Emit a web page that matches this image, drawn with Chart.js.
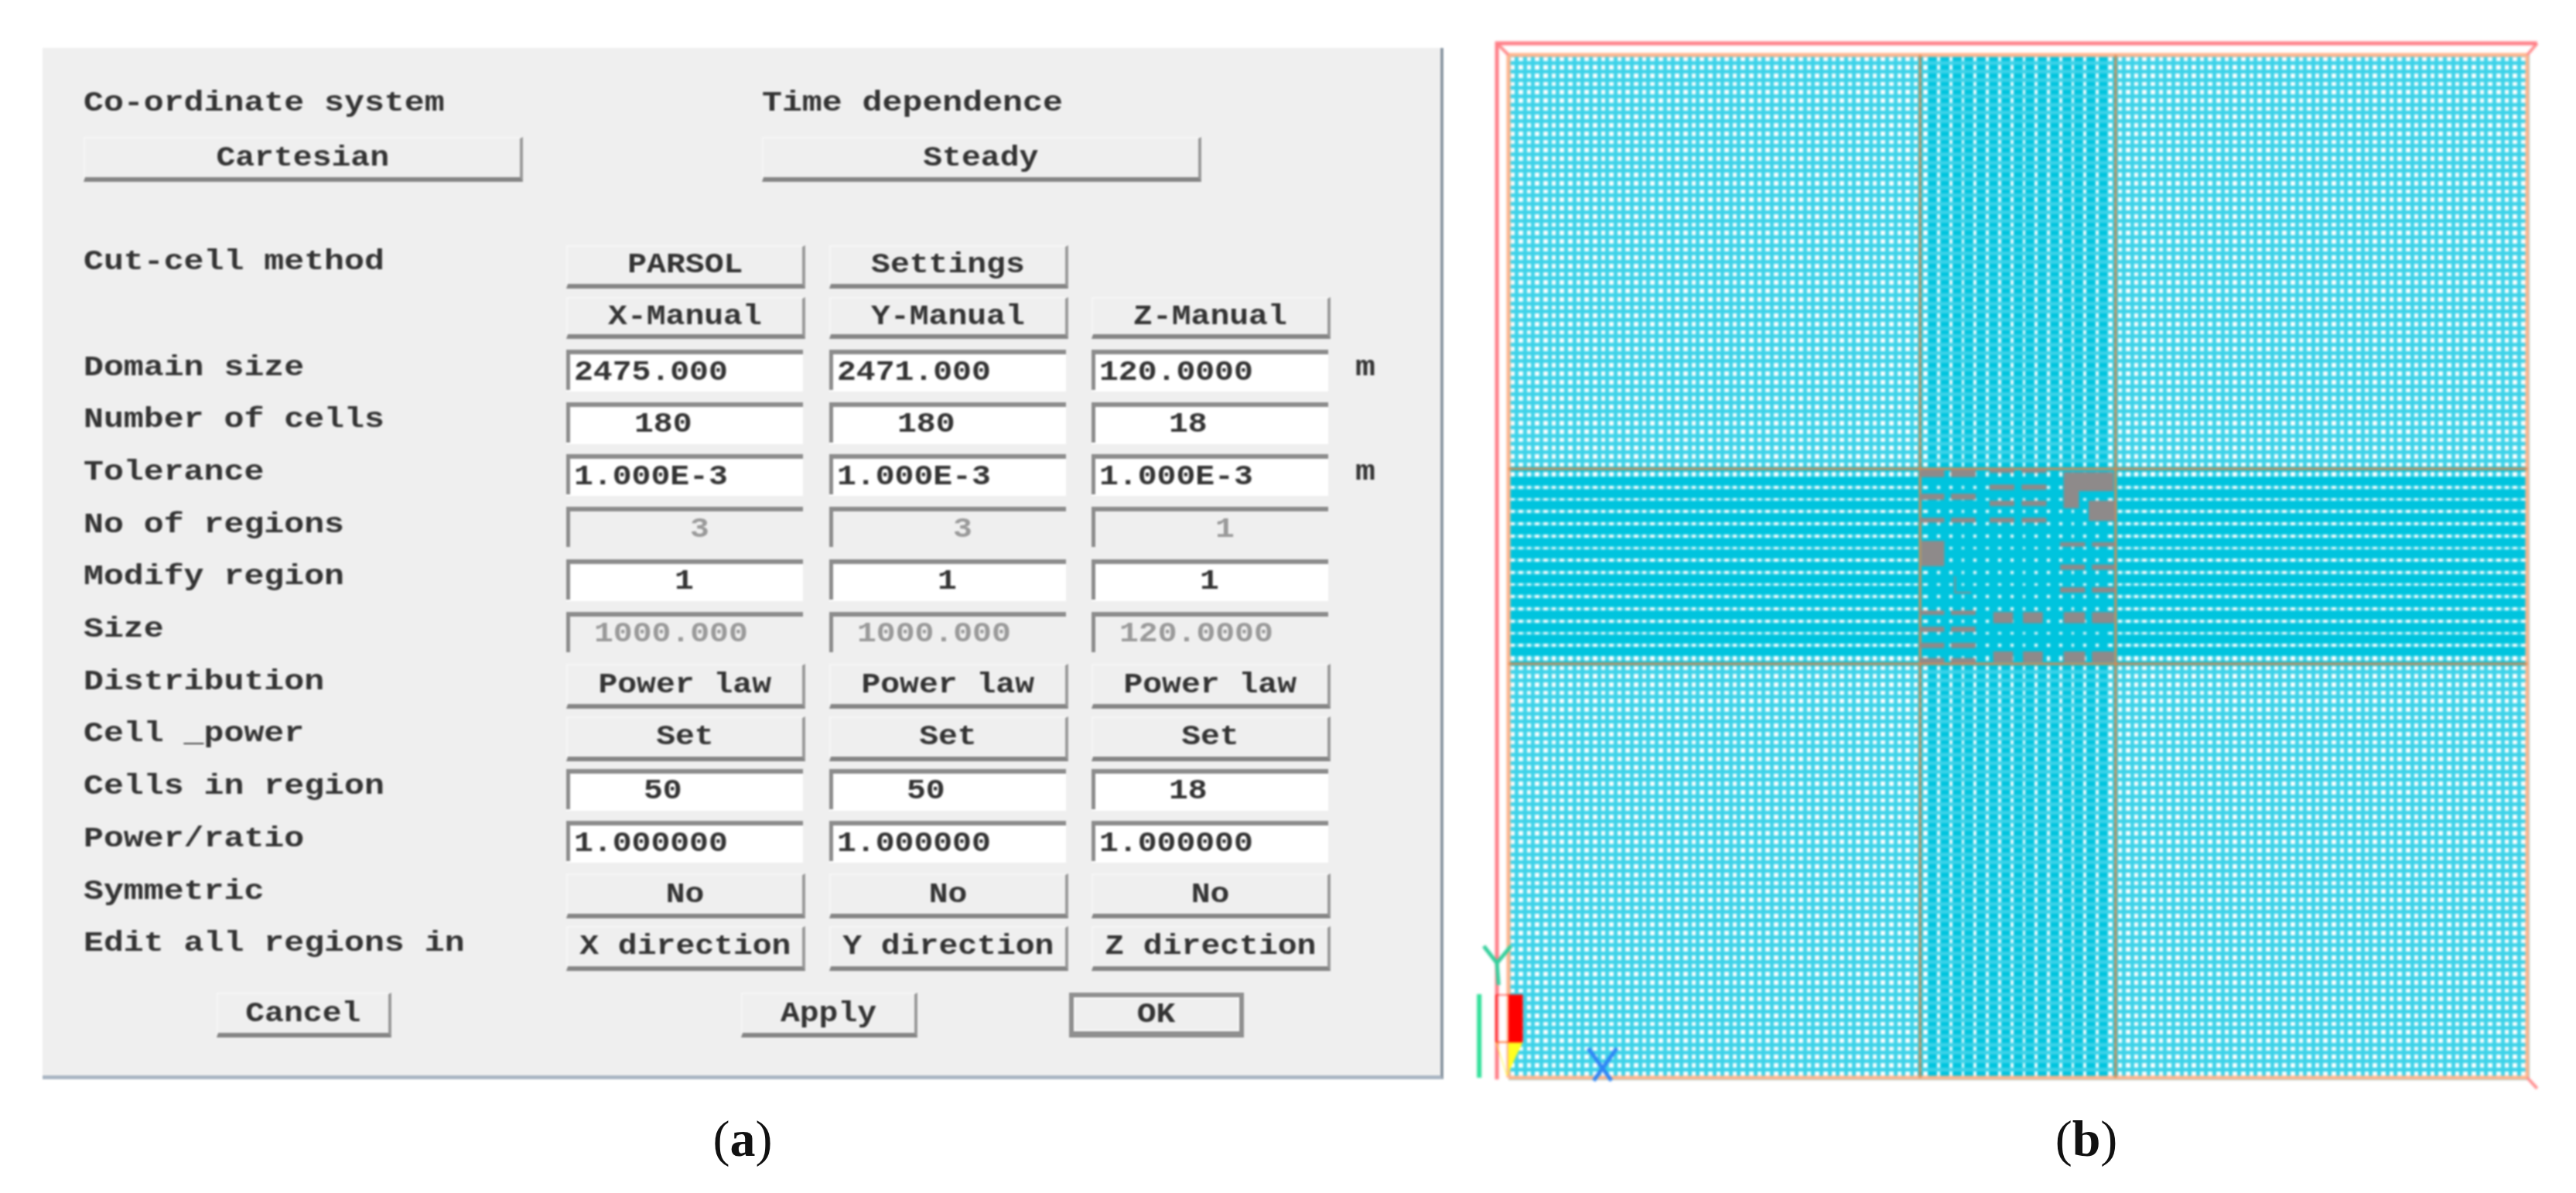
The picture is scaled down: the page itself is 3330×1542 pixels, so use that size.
<!DOCTYPE html>
<html>
<head>
<meta charset="utf-8">
<title>Mesh settings</title>
<script src="https://cdn.jsdelivr.net/npm/chart.js@4"></script>
<style>
  html, body { margin: 0; padding: 0; background: #fff; }
  body { position: relative; width: 3330px; height: 1542px; overflow: hidden; }
  #blur { position: absolute; left: 0; top: 0; width: 1900px; height: 1440px; filter: blur(1px); }
  #panel {
    position: absolute; left: 55px; top: 62px; width: 1807px; height: 1328px;
    background: #efefef; border-right: 4px solid #8d99a5; border-bottom: 5px solid #aab6c3;
  }
  .w { position: absolute; box-sizing: border-box; display: flex; align-items: center; color: #333;
       font: bold 36px "Liberation Mono", monospace; white-space: pre; }
  .w span { display: inline-block; transform: scaleX(1.15); }
  .lab { margin-top: 3px; }
  .lab span { transform: scaleX(1.2); transform-origin: left center; }
  .btn { justify-content: center; background: #efefef; border-top: 2px solid #f6f6f6; border-left: 2px solid #f6f6f6;
         border-right: 4px solid #9a9a9a; border-bottom: 6px solid #858585; }
  .field { background: #fff; border-top: 6px solid #8c8c8c; padding-left: 10px; }
  .field::before { content: ''; position: absolute; left: 0; top: 0; width: 5px; height: 46px; background: #8c8c8c; }
  .field span { transform-origin: left center; margin-top: -2px; }
  .off { background: #efefef; color: #9a9a9a; }
  .ok { border: 6px solid #8f8f8f; border-bottom-width: 8px; box-shadow: inset 0 0 0 2px #fafafa; }
  .cap { position: absolute; transform: translate(-50%, -50%); font: 66px "Liberation Serif", serif; color: #111; }
  .cap b { font-weight: bold; }
  #mesh { position: absolute; left: 1880px; top: 30px; filter: blur(1.5px); }
</style>
</head>
<body>
<div id="blur"><div id="panel"></div></div>
<div class="cap" style="left:960px;top:1472px">(<b>a</b>)</div>
<div class="cap" style="left:2697px;top:1472px">(<b>b</b>)</div>
<canvas id="mesh" width="1450" height="1410"></canvas>
<script>
/* ── Dialog contents ───────────────────────────────────────────────── */
const rowLabels = ['Domain size', 'Number of cells', 'Tolerance', 'No of regions', 'Modify region', 'Size',
  'Distribution', 'Cell _power', 'Cells in region', 'Power/ratio', 'Symmetric', 'Edit all regions in'];
const rowKinds = ['field', 'field', 'field', 'off', 'field', 'off', 'btn', 'btn', 'field', 'field', 'btn', 'btn'];
const xValues = ['2475.000', '180', '1.000E-3', '3', '1', '1000.000', 'Power law', 'Set', '50', '1.000000', 'No', 'X direction'];
const yValues = ['2471.000', '180', '1.000E-3', '3', '1', '1000.000', 'Power law', 'Set', '50', '1.000000', 'No', 'Y direction'];
const zValues = ['120.0000', '18', '1.000E-3', '1', '1', '120.0000', 'Power law', 'Set', '18', '1.000000', 'No', 'Z direction'];
const unitRows = [0, 2];
const cutCellButtons = ['PARSOL', 'Settings'];
const manualButtons = ['X-Manual', 'Y-Manual', 'Z-Manual'];

/* ── Mesh, metres ──────────────────────────────────────────────────── */
const domainX = 2475;
const domainY = 2471;
const regionsX = [1000, 475, 1000];
const regionsY = [1000, 471, 1000];
// inner 80 cells only show up as about 16 stripes at this raster
const visibleCells = [50, 16, 50];

const stripColsA = [[1001, 1058], [1076, 1134]];
const stripRowsA = [[1452, 1468], [1397, 1410], [1342, 1352], [1119, 1128], [1078, 1089], [1039, 1050], [1003, 1013]];
const stripColsB = [[1170, 1228], [1248, 1306]];
const stripRowsB = [[1462, 1469], [1421, 1432], [1382, 1393], [1342, 1352]];
const stripColsC = [[1342, 1400], [1419, 1472]];
const stripRowsC = [[1284, 1293], [1228, 1239], [1173, 1184]];
const squareCols = [[1179, 1225], [1251, 1297], [1350, 1400], [1419, 1470]];
const squareRows = [[1099, 1124], [1005, 1029]];
const singleBlocks = [[1005, 1058, 1237, 1296], [1350, 1469, 1418, 1462], [1350, 1385, 1377, 1418], [1411, 1472, 1346, 1393]];
const thinWall = [[1085, 1211], [1085, 1172], [1124, 1172]];

const frameEdge = [[-28, -4], [-28, 2499], [2499, 2499]];
const frameTies = [[[-28, 2499], [0, 2471]], [[2499, 2499], [2475, 2471]], [[2475, 0], [2499, -26]]];
const frameCorners = [[-28, 2499], [2499, 2499], [2499, -26]];
const axisY = [[[-60, 318], [-28, 277], [6, 318]], [[-28, 277], [-24, 224]]];
const axisX = [[[194, 71], [250, -7]], [[263, 71], [207, -7]]];
const scaleBar = [[-71, 202], [-71, 0]];
const legendRed = [-30, 34, 86, 200];
const legendYellow = [[-30, 86], [34, 86], [-4, 6]];
const axisTicks = [[-43, -26], [-4, -26], [62, -26]];

/* ── Build dialog ──────────────────────────────────────────────────── */
const root = document.getElementById('blur');
const ROW0 = 452, PITCH = 67.7, COLS = [732, 1072, 1411], COLW = 309;

function widget(cls, text, left, top, w, h, pad) {
  const d = document.createElement('div');
  d.className = 'w ' + cls;
  d.style.cssText = `left:${left}px;top:${top}px;width:${w}px;height:${h}px;` + (pad !== undefined ? `padding-left:${pad}px;` : '');
  const s = document.createElement('span');
  s.textContent = text;
  d.appendChild(s);
  root.appendChild(d);
}

function fieldPad(row, text) {
  if (row === 5) return 36;                       // Size, greyed out
  if (text.length >= 8) return 10;
  if (row === 3) return 160;
  if (row === 4) return 140;
  return text.length === 3 ? 88 : 100;
}

widget('lab', 'Co-ordinate system', 108, 110, 600, 40);
widget('lab', 'Time dependence', 985, 110, 600, 40);
widget('btn', 'Cartesian', 108, 177, 568, 58);
widget('btn', 'Steady', 985, 177, 568, 58);
widget('lab', 'Cut-cell method', 108, 315, 600, 40);
cutCellButtons.forEach((t, c) => widget('btn', t, COLS[c], ROW0 - 2 * PITCH, COLW, 56));
manualButtons.forEach((t, c) => widget('btn', t, COLS[c], ROW0 - PITCH, COLW, 54));

rowLabels.forEach((label, r) => {
  const top = ROW0 + r * PITCH;
  widget('lab', label, 108, top, 600, 40);
  [xValues, yValues, zValues].forEach((vals, c) => {
    const kind = rowKinds[r];
    if (kind === 'btn') widget('btn', vals[r], COLS[c], top, COLW, 58);
    else widget(kind === 'off' ? 'field off' : 'field', vals[r], COLS[c], top, COLW - 3, 54, fieldPad(r, vals[r]));
  });
  if (unitRows.includes(r)) widget('lab', 'm', 1752, top, 40, 40);
});

widget('btn', 'Cancel', 280, 1283, 226, 58);
widget('btn', 'Apply', 958, 1283, 228, 58);
widget('btn ok', 'OK', 1382, 1283, 226, 58);

/* ── Mesh chart ────────────────────────────────────────────────────── */
function meshLines(regions) {
  const out = [0];
  let at = 0;
  regions.forEach((len, i) => {
    for (let k = 1; k <= visibleCells[i]; k++) out.push(at + len * k / visibleCells[i]);
    at += len;
  });
  return out;
}
const pts = list => list.map(p => ({ x: p[0], y: p[1] }));

function stroke(list, color, width, order) {
  return { data: pts(list), showLine: true, borderColor: color, borderWidth: width, pointRadius: 0, clip: false, order };
}
function shape(list, color, order) {
  return { data: pts(list), showLine: true, fill: 'shape', backgroundColor: color, borderColor: color,
           borderWidth: 1, pointRadius: 0, clip: false, order };
}
const rect = (x0, x1, y0, y1) => [[x0, y0], [x1, y0], [x1, y1], [x0, y1], [x0, y0]];

const datasets = [];
const GREY = '#8e8a8a';
function crossBlocks(cols, rows) {
  cols.forEach(c => rows.forEach(r => datasets.push(shape(rect(c[0], c[1], r[0], r[1]), GREY, 3))));
}
crossBlocks(stripColsA, stripRowsA);
crossBlocks(stripColsB, stripRowsB);
crossBlocks(stripColsC, stripRowsC);
crossBlocks(squareCols, squareRows);
singleBlocks.forEach(b => datasets.push(shape(rect(b[0], b[1], b[2], b[3]), GREY, 3)));
datasets.push(stroke(thinWall, GREY, 2, 3));

// region boundaries and outer mesh edge
const x1 = regionsX[0], x2 = regionsX[0] + regionsX[1], y1 = regionsY[0], y2 = regionsY[0] + regionsY[1];
[[[x1, 0], [x1, domainY]], [[x2, 0], [x2, domainY]], [[0, y1], [domainX, y1]], [[0, y2], [domainX, y2]]]
  .forEach(l => datasets.push(stroke(l, 'rgba(225,135,75,0.95)', 3, 4)));
datasets.push(stroke(rect(0, domainX, 0, domainY), '#ffb48c', 5, 4));

// frame and axis triad
datasets.push(stroke(frameEdge, '#ff7f88', 5, 2));
frameTies.forEach(l => datasets.push(stroke(l, '#ff8f90', 4, 2)));
datasets.push({ data: pts(frameCorners), pointRadius: 4, pointBackgroundColor: '#ff2030', pointBorderWidth: 0, clip: false, order: 1 });
axisY.forEach(l => datasets.push(stroke(l, '#35cf9c', 5, 1)));
axisX.forEach(l => datasets.push(stroke(l, '#2f86f5', 5, 1)));
datasets.push(stroke(scaleBar, '#33e09a', 6, 1));
datasets.push({ data: [{ x: scaleBar[1][0], y: 2 }], pointRadius: 6, pointBackgroundColor: '#f0a020', pointBorderWidth: 0, clip: false, order: 0 });
datasets.push(shape(rect(legendRed[0], legendRed[1], legendRed[2], legendRed[3]), '#ff0000', 1));
datasets.push(shape(legendYellow.concat([legendYellow[0]]), '#ffff20', 1));
datasets.push({ data: pts(axisTicks), pointRadius: 3, pointBackgroundColor: '#9a9a9a', pointBorderWidth: 0, clip: false, order: 0 });

function meshAxis(domain, regions, lines) {
  const lo = regions[0], hi = regions[0] + regions[1];
  const inner = v => v > lo && v < hi;
  const edge = v => Math.abs(v - lo) < 0.01 || Math.abs(v - hi) < 0.01;
  return {
    type: 'linear',
    display: true,
    bounds: 'data',
    afterDataLimits(s) { s.min = 0; s.max = domain; },
    afterBuildTicks(s) { s.ticks = lines.map(v => ({ value: v })); },
    ticks: { display: false },
    border: { display: false },
    grid: {
      drawTicks: false,
      color: c => inner(c.tick.value) || edge(c.tick.value) ? '#00c4de' : '#3cd2e8',
      lineWidth: c => inner(c.tick.value) ? 12 : edge(c.tick.value) ? 7 : 5,
    },
  };
}

new Chart(document.getElementById('mesh'), {
  type: 'scatter',
  data: { datasets },
  options: {
    responsive: false,
    animation: false,
    devicePixelRatio: 1,
    layout: { padding: { left: 70, top: 41, right: 63, bottom: 47 } },
    plugins: { legend: { display: false }, tooltip: { enabled: false } },
    scales: {
      x: meshAxis(domainX, regionsX, meshLines(regionsX)),
      y: meshAxis(domainY, regionsY, meshLines(regionsY)),
    },
  },
});
</script>
</body>
</html>
